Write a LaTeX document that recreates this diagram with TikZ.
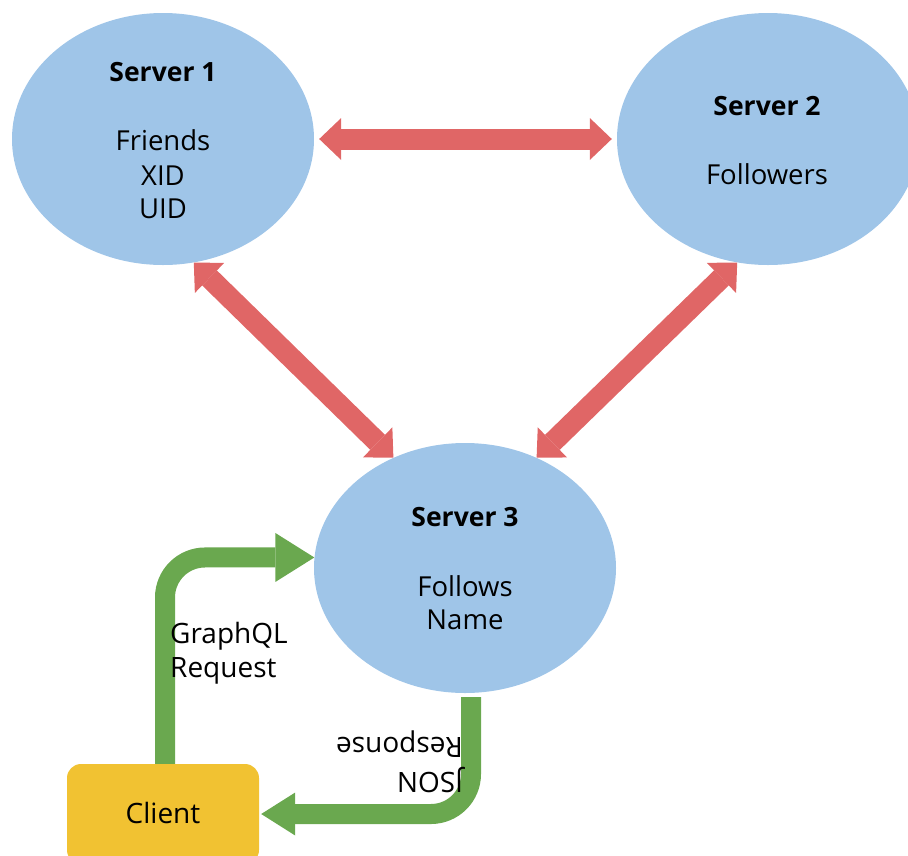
\documentclass[tikz,border=0pt]{standalone}
\usepackage{fontspec}
\setmainfont{Open Sans}
\usetikzlibrary{arrows.meta,shapes.geometric}
\definecolor{srvblue}{HTML}{9FC5E8}
\definecolor{linkred}{HTML}{E06666}
\definecolor{flowgreen}{HTML}{6AA84F}
\definecolor{clientyellow}{HTML}{F1C232}

\begin{document}
\begin{tikzpicture}[x=1pt,y=-1pt,
  server/.style={ellipse, fill=srvblue, inner sep=0pt,
    minimum width=302pt, minimum height=252pt},
  title/.style={font=\fontsize{26.5}{30}\selectfont\bfseries, anchor=base, inner sep=0pt},
  entry/.style={font=\fontsize{27.5}{32}\selectfont, anchor=base, inner sep=0pt},
  flowlabel/.style={font=\fontsize{28}{32}\selectfont, anchor=base west, inner sep=0pt},
  clientbox/.style={rectangle, rounded corners=14pt, fill=clientyellow,
    minimum width=192pt, minimum height=100pt, inner sep=0pt},
  redlink/.style={draw=linkred, line width=21pt,
    {Triangle[length=22pt,width=42pt,line width=0pt]}-{Triangle[length=22pt,width=42pt,line width=0pt]}},
  greenflow/.style={draw=flowgreen, line width=20pt, rounded corners=40pt},
]
\useasboundingbox (0,0) rectangle (908,855);
\clip (0,0) rectangle (908,855);

% servers and client
\node[server] (s1) at (163,139) {};
\node[server] (s2) at (768,139) {};
\node[server, minimum height=250pt] (s3) at (465,568) {};
\node[clientbox] (cl) at (163,814) {};

% labels inside the shapes
\node[title] (t1) at (163,81) {Server 1};
\node[entry] (e1a) at (163,150) {Friends};
\node[entry] (e1b) at (163,185) {XID};
\node[entry] (e1c) at (163,218) {UID};
\node[title] (t2) at (767,115) {Server 2};
\node[entry] (e2a) at (767,184) {Followers};
\node[title] (t3) at (465,526) {Server 3};
\node[entry] (e3a) at (465,596) {Follows};
\node[entry] (e3b) at (465,629) {Name};
\node[entry, font=\fontsize{28}{32}\selectfont] (ct) at (163,823) {Client};

% server links
\draw[redlink, shorten <=5pt, shorten >=5pt] (s1.east) -- (s2.west);
\draw[redlink] (s1.-76) -- (s3.123);
\draw[redlink] (s2.256) -- (s3.57);

% request and response flows
\draw[greenflow, -{Triangle[length=39pt,width=49pt,line width=0pt]}]
  ([xshift=2pt]cl.north) |- (s3.176);
\draw[greenflow, shorten >=2pt, -{Triangle[length=34pt,width=43pt,line width=0pt]}]
  ([shift={(6pt,-4pt)}]s3.south) |- (cl.east);

\node[flowlabel] (q1) at (170,643) {GraphQL};
\node[flowlabel] (q2) at (170,677) {Request};
\node[flowlabel, rotate=180] (j1) at (463,772) {JSON};
\node[flowlabel, rotate=180] (j2) at (463,737) {Response};
\end{tikzpicture}
\end{document}
